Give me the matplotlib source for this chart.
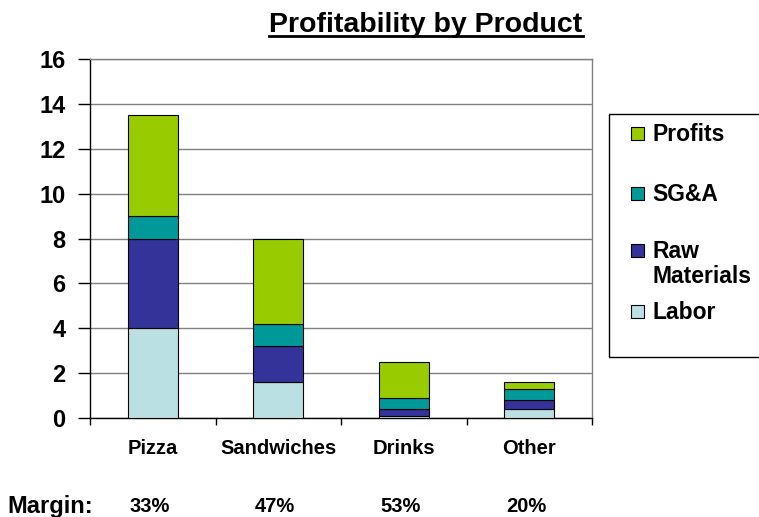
import numpy as np
import matplotlib
matplotlib.use("Agg")
import matplotlib.pyplot as plt
from matplotlib.patches import Rectangle
from matplotlib.lines import Line2D

plt.rcParams['font.family'] = ['Liberation Sans', 'DejaVu Sans']
plt.rcParams['font.weight'] = 'bold'

# data
products = ['Pizza', 'Sandwiches', 'Drinks', 'Other']
labor = [4.0, 1.6, 0.1, 0.4]
raw_materials = [4.0, 1.6, 0.3, 0.4]
sga = [1.0, 1.0, 0.5, 0.5]
profits = [4.5, 3.8, 1.6, 0.3]
margins = ['33%', '47%', '53%', '20%']

series_names = ['Labor', 'Raw\nMaterials', 'SG&A', 'Profits']
series_colors = ['#BBE0E3', '#333399', '#009999', '#99CC00']

W, H = 759, 517
fig = plt.figure(figsize=(W / 100, H / 100), dpi=100)
ax = fig.add_axes([90 / W, 1 - 418 / H, (592 - 90) / W, (418 - 59) / H])

x = np.arange(len(products))
bottom = np.zeros(len(products))
for vals, col in zip([labor, raw_materials, sga, profits], series_colors):
    ax.bar(x, vals, width=0.4, bottom=bottom, color=col,
           edgecolor='black', linewidth=0.8, zorder=3)
    bottom += np.array(vals)

ax.set_xlim(-0.5, len(products) - 0.5)
ax.set_ylim(0, 16)
ax.set_yticks(np.arange(0, 17, 2))
ax.yaxis.grid(True, color='#808080', linewidth=1.0, zorder=0)
ax.tick_params(axis='y', labelsize=17, length=9, width=1, pad=8.5)
for t in ax.get_yticklabels():
    t.set_fontweight('bold')

# category labels at centres, tick marks at boundaries
ax.set_xticks(x)
ax.set_xticklabels(products, fontsize=14.5, fontweight='bold')
ax.tick_params(axis='x', which='major', length=0, pad=15)
ax.set_xticks(np.arange(-0.5, len(products), 1.0), minor=True)
ax.tick_params(axis='x', which='minor', length=5, width=1, direction='out')

ax.spines['left'].set_color('black')
ax.spines['bottom'].set_color('black')
ax.spines['top'].set_color('#808080')
ax.spines['right'].set_color('#808080')
for s in ax.spines.values():
    s.set_linewidth(1.0)

# margin row
fig.text(50 / W, 1 - 507 / H, 'Margin:', fontsize=17, fontweight='bold',
         ha='center', va='center')
for xi, m in zip(x, margins):
    xd = ax.transData.transform((xi, 0))[0]
    fig.text(xd / W - 0.004, 1 - 507 / H, m, fontsize=14.5, fontweight='bold',
             ha='center', va='center')

# title with underline
title = fig.text(426 / W, 1 - 32 / H, 'Profitability by Product', fontsize=20.5,
                 fontweight='bold', ha='center', va='baseline')
fig.canvas.draw()
bb = title.get_window_extent()
fig.add_artist(Line2D([bb.x0 / W, bb.x1 / W], [1 - 36 / H, 1 - 36 / H],
                      transform=fig.transFigure, color='black', linewidth=2))

# legend box drawn by hand (it runs off the right edge in the reference)
fig.add_artist(Rectangle((609 / W, 1 - 357 / H), (780 - 609) / W, (357 - 114) / H,
                         transform=fig.transFigure, facecolor='white',
                         edgecolor='black', linewidth=1, clip_on=False))
leg_rows = [133, 193, 250, 311]
for name, col, yy in zip(series_names[::-1], series_colors[::-1], leg_rows):
    fig.add_artist(Rectangle((631 / W, 1 - (yy + 6.5) / H), 13 / W, 13 / H,
                             transform=fig.transFigure, facecolor=col,
                             edgecolor='black', linewidth=0.8))
    fig.text(652 / W, 1 - (yy - 10) / H, name, fontsize=16.5, fontweight='bold',
             ha='left', va='top', linespacing=1.1)

fig.savefig('out.png', dpi=100)
